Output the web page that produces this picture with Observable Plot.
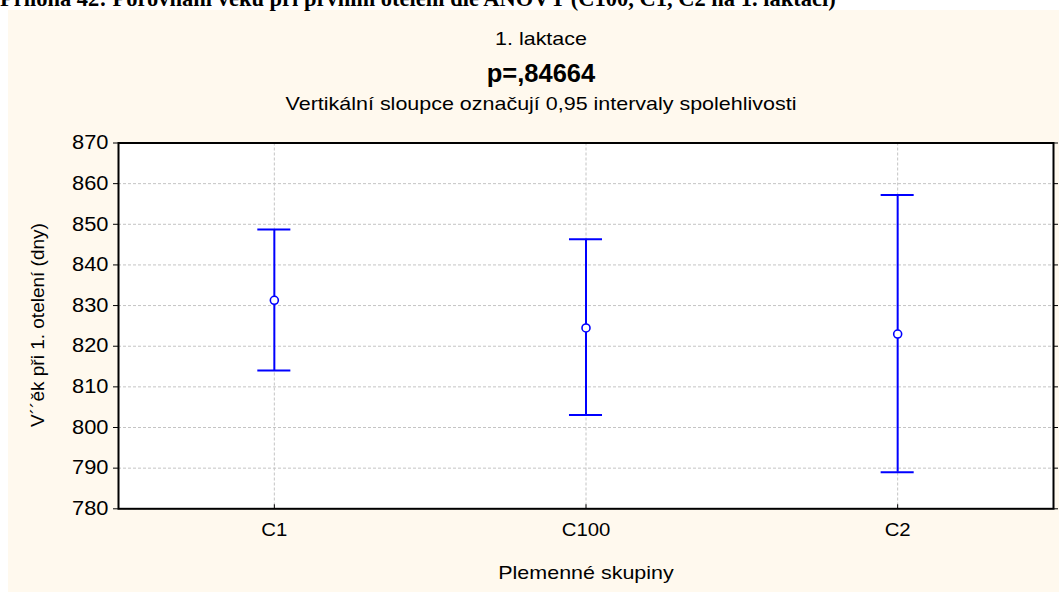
<!DOCTYPE html>
<html><head><meta charset="utf-8">
<script src="https://cdn.jsdelivr.net/npm/d3@7"></script>
<script src="https://cdn.jsdelivr.net/npm/@observablehq/plot@0.6"></script>
<style>
body{margin:0;background:#fff;}
#wrap{position:relative;width:1059px;height:592px;overflow:hidden;font-family:"Liberation Sans",Arial,sans-serif;}
#panel{position:absolute;left:8px;top:10px;right:0;bottom:0;background:#fff9ee;}
#chart{position:absolute;left:0;top:0;}
.t{position:absolute;white-space:nowrap;color:#000;line-height:1;}
.c{transform:translateX(-50%) scaleX(1.13);}
</style></head><body>
<div id="wrap">
<div id="panel"></div>
<div class="t" style="left:0;top:-14px;font:bold 22.5px 'Liberation Serif',serif;">Příloha 42: Porovnání věku při prvním otelení dle ANOVY (C100, C1, C2 na 1. laktaci)</div>
<div id="chart"></div>
<div class="t c" style="left:541px;top:28.9px;font-size:19px;">1. laktace</div>
<div class="t" style="left:541px;top:61px;font-size:25.5px;font-weight:bold;transform:translateX(-50%);">p=,84664</div>
<div class="t c" style="left:541px;top:93.9px;font-size:19px;">Vertikální sloupce označují 0,95 intervaly spolehlivosti</div>
<div class="t c" style="left:585.5px;top:562.9px;font-size:19px;">Plemenné skupiny</div>
<div class="t" style="left:37px;top:325.4px;font-size:19px;transform:translate(-50%,-50%) rotate(-90deg);">V´´ěk při 1. otelení (dny)</div>
</div>
<script>
const categories = ["C1", "C100", "C2"];
const means = [831.3, 824.5, 823.0];
const lower = [814.0, 803.1, 789.0];
const upper = [848.7, 846.3, 857.2];
const yTicks = [780, 790, 800, 810, 820, 830, 840, 850, 860, 870];

const data = categories.map((g, i) => ({group: g, mean: means[i], lo: lower[i], hi: upper[i]}));
const blue = "#0000ff";
const gridStyle = {stroke: "#c4c4c4", strokeOpacity: 1, strokeDasharray: "3,2"};

const chart = Plot.plot({
  width: 1059,
  height: 592,
  marginLeft: 118,
  marginRight: 6,
  marginTop: 142.5,
  marginBottom: 83.7,
  style: {background: "transparent", fontFamily: "'Liberation Sans', Arial, sans-serif", fontSize: "19px", color: "#000", overflow: "visible"},
  x: {type: "band", domain: categories, paddingInner: 0.894, paddingOuter: 0.447, round: false},
  y: {domain: [780, 870]},
  marks: [
    Plot.frame({fill: "#fff", stroke: null}),
    Plot.gridY(yTicks, gridStyle),
    Plot.gridX(categories, gridStyle),
    Plot.axisY(yTicks, {tickSize: 5, tickPadding: 5, label: null, fontSize: 19.5, stroke: "#000"}),
    Plot.axisY(yTicks, {anchor: "right", tickSize: 4, tickFormat: () => "", label: null}),
    Plot.axisX(categories, {tickSize: 0, tickPadding: 14, label: null, fontSize: 19}),
    Plot.axisX(categories, {tickSize: -4, tickFormat: () => "", label: null}),
    Plot.ruleX(data, {x: "group", y1: "lo", y2: "hi", stroke: blue, strokeWidth: 2}),
    Plot.tickY(data, {x: "group", y: "lo", stroke: blue, strokeWidth: 2}),
    Plot.tickY(data, {x: "group", y: "hi", stroke: blue, strokeWidth: 2}),
    Plot.dot(data, {x: "group", y: "mean", r: 4, fill: "#fff", stroke: blue, strokeWidth: 1.6}),
    Plot.frame({stroke: "#000", strokeWidth: 2})
  ]
});
document.getElementById("chart").appendChild(chart);
// widen tick labels slightly to match the reference's horizontally stretched glyphs
chart.querySelectorAll('g[aria-label="y-axis tick label"] text').forEach(t => {
  const w = t.getComputedTextLength();
  if (w > 0) { t.setAttribute("textLength", w * 1.12); t.setAttribute("lengthAdjust", "spacingAndGlyphs"); }
});
chart.querySelectorAll('g[aria-label="x-axis tick label"] text').forEach(t => {
  const w = t.getComputedTextLength();
  if (w > 0) { t.setAttribute("textLength", w * 1.07); t.setAttribute("lengthAdjust", "spacingAndGlyphs"); }
});
</script>
</body></html>
